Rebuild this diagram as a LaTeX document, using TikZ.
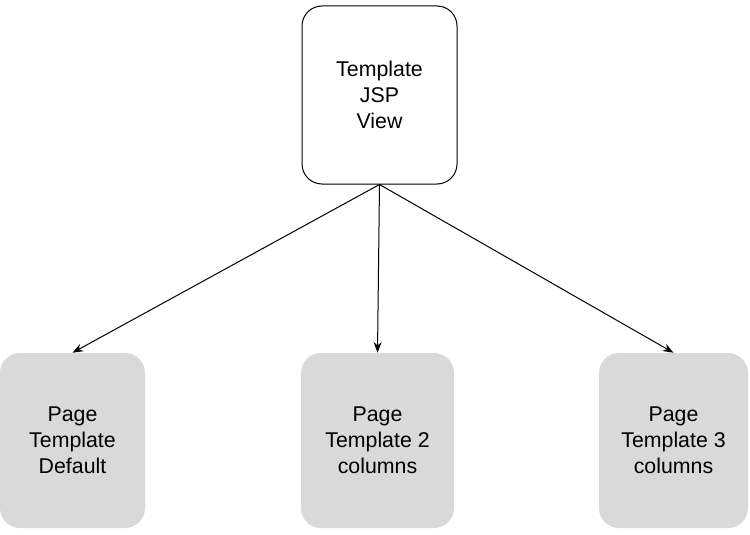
\documentclass[tikz,border=0pt]{standalone}
\usepackage{fontspec}
\setmainfont{Liberation Sans}
\usetikzlibrary{arrows.meta}
\tikzset{
  viewbox/.style={draw=black, line width=0.75, rounded corners=15pt, minimum width=155*0.75pt, minimum height=178*0.75pt, align=center, font=\fontsize{16pt}{19.5pt}\selectfont, inner sep=0pt},
  pagebox/.style={fill={rgb, 255:red, 217; green, 217; blue, 217}, rounded corners=15pt, minimum height=175*0.75pt, align=center, font=\fontsize{16pt}{19.5pt}\selectfont, inner sep=0pt},
  link/.style={draw, line width=0.75, -{Stealth[length=8pt,width=6pt]}}
}
\begin{document}
\begin{tikzpicture}[x=0.75pt,y=0.75pt,yscale=-1,xscale=1]
        \useasboundingbox (0,0) rectangle (750,535);
        % Top node
        \node [viewbox] (jsp) at (379.5,95) {Template\\JSP\\View};
        % Page templates
        \node [pagebox, minimum width=145*0.75pt] (pdefault) at (72.5,440.5) {Page\\Template\\Default};
        \node [pagebox, minimum width=153*0.75pt] (ptwo) at (377.5,440.5) {Page\\Template 2\\columns};
        \node [pagebox, minimum width=149*0.75pt] (pthree) at (673.5,440.5) {Page\\Template 3\\columns};
        % Connectors
        \draw [link] (jsp.south) -- (pdefault.north);
        \draw [link] (jsp.south) -- (ptwo.north);
        \draw [link] (jsp.south) -- (pthree.north);
\end{tikzpicture}
\end{document}
